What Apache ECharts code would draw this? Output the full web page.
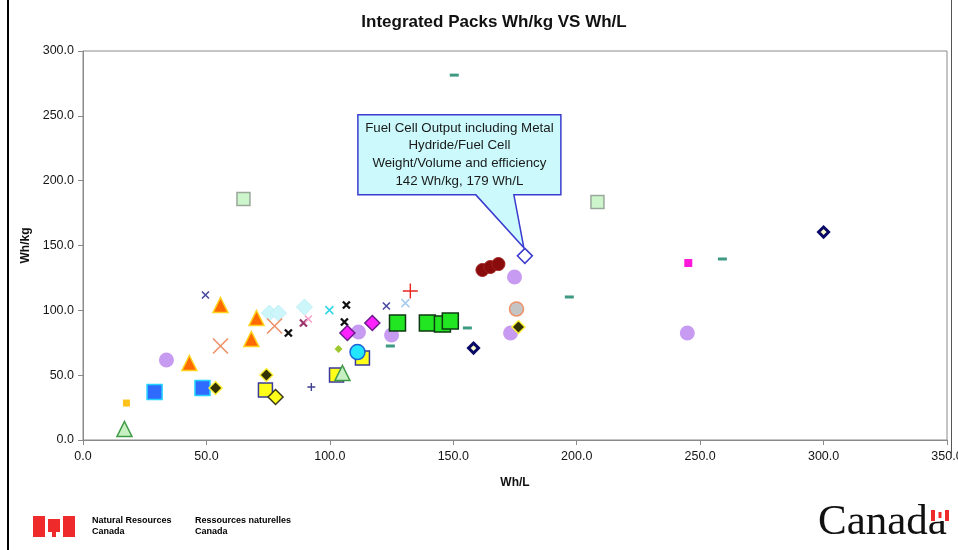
<!DOCTYPE html>
<html>
<head>
<meta charset="utf-8">
<title>Integrated Packs Wh/kg VS Wh/L</title>
<script src="https://cdn.jsdelivr.net/npm/echarts/dist/echarts.min.js"></script>
<style>
  html, body { margin: 0; padding: 0; background: #ffffff; }
  #chart { width: 958px; height: 550px; }
</style>
</head>
<body>
<div id="chart"></div>
<script>
// Pack data: each entry is [Wh/L, Wh/kg]
const lightPurpleCircles = [[33.8, 61.7], [111.6, 83.3], [125.0, 81.0], [174.8, 125.7], [173.2, 82.5], [244.8, 82.5]];
const paleGreenSquares   = [[65.0, 185.8], [208.4, 183.5]];
const tealDashes         = [[124.5, 72.5], [155.7, 86.4], [197.0, 110.3], [259.0, 139.6], [150.4, 281.4]];
const paleCyanDiamonds   = [[75.5, 97.9], [79.2, 97.9], [89.7, 102.5]];
const salmonCrosses      = [[55.7, 72.5], [77.6, 87.9]];
const orangeTriangles    = [[43.1, 59.4], [55.7, 104.1], [70.3, 94.1], [68.2, 77.9]];
const blueSquares        = [[29.0, 37.0], [48.4, 40.1]];
const smallGoldSquares   = [[17.6, 28.5]];
const yellowSquares      = [[73.9, 38.6], [102.7, 50.1], [113.2, 63.2]];
const yellowDiamonds     = [[78.0, 33.2]];
const darkDiamonds       = [[53.7, 40.1], [74.3, 50.1], [176.4, 87.1]];
const navyCrosses        = [[49.6, 111.8], [122.9, 103.3]];
const blackCrosses       = [[83.2, 82.5], [106.7, 104.1], [105.9, 91.0]];
const plumCrosses        = [[89.3, 90.2]];
const pinkCrosses        = [[91.3, 93.3]];
const cyanCrosses        = [[99.8, 100.2]];
const skyCrosses         = [[130.6, 105.6]];
const navyPlus           = [[92.5, 40.9]];
const redPlus            = [[132.6, 114.9]];
const magentaDiamonds    = [[107.1, 82.5], [117.2, 90.2]];
const oliveDiamonds      = [[103.5, 70.2]];
const cyanCircles        = [[111.2, 67.8]];
const greenTriangles     = [[16.8, 8.5], [105.1, 51.7]];
const greenSquares       = [[127.4, 90.2], [139.5, 90.2], [145.6, 89.4], [148.8, 91.7]];
const navyRingDiamonds   = [[158.2, 70.9], [300.0, 160.4]];
const maroonCircles      = [[161.8, 131.1], [165.0, 133.4], [168.3, 135.7]];
const greyCircles        = [[175.6, 101.0]];
const magentaSquares     = [[245.2, 136.5]];
const fuelCellPoint      = [[179, 142]];

const xTicks = [0, 50, 100, 150, 200, 250, 300, 350];
const yTicks = [0, 50, 100, 150, 200, 250, 300];

const calloutLines = [
  'Fuel Cell Output including Metal',
  'Hydride/Fuel Cell',
  'Weight/Volume and efficiency',
  '142 Wh/kg, 179 Wh/L'
];

const CROSS = 'path://M0,0L10,10M10,0L0,10';
const PLUS = 'path://M5,0L5,10M0,5L10,5';

function scatter(data, symbol, size, fill, stroke, strokeWidth) {
  return {
    type: 'scatter',
    data: data,
    symbol: symbol,
    symbolSize: size,
    silent: true,
    itemStyle: {
      color: fill,
      borderColor: stroke || fill,
      borderWidth: strokeWidth || 0,
      opacity: 1
    }
  };
}
const NONE = 'rgba(0,0,0,0)';

const series = [
  scatter(lightPurpleCircles, 'circle', 15, '#C79BF2'),
  scatter(paleGreenSquares, 'rect', 13, '#CCF5CC', '#9AA89A', 1.5),
  scatter(tealDashes, 'rect', [9, 3], '#3E9A82'),
  scatter(paleCyanDiamonds, 'diamond', 16, '#CDF6FA', '#BFEFF5', 1),
  scatter(salmonCrosses, CROSS, 15, NONE, '#EE9168', 1.6),
  scatter(orangeTriangles, 'triangle', 15, '#FF6A00', '#FFD21F', 1.5),
  scatter(blueSquares, 'rect', 15, '#2F6BFF', '#22D2FF', 1.5),
  scatter(smallGoldSquares, 'rect', 7, '#FFC21A'),
  scatter(yellowSquares, 'rect', 14, '#FFFF1A', '#3A3A9A', 1.5),
  scatter(yellowDiamonds, 'diamond', 15, '#FFFF1A', '#3A3A1A', 1.5),
  scatter(darkDiamonds, 'diamond', 13, '#333300', '#FFF23A', 1.5),
  scatter(navyCrosses, CROSS, 7, NONE, '#4A4AA0', 1.6),
  scatter(blackCrosses, CROSS, 7, NONE, '#111111', 2.4),
  scatter(plumCrosses, CROSS, 7, NONE, '#99336A', 2.2),
  scatter(pinkCrosses, CROSS, 7, NONE, '#F7A0C8', 1.6),
  scatter(cyanCrosses, CROSS, 8, NONE, '#33D6E6', 1.6),
  scatter(skyCrosses, CROSS, 8, NONE, '#A8CCEE', 1.6),
  scatter(navyPlus, PLUS, 8, NONE, '#40408F', 1.4),
  scatter(redPlus, PLUS, 15, NONE, '#E8261F', 1.4),
  scatter(magentaDiamonds, 'diamond', 15, '#FF22FF', '#6A1A8A', 1.5),
  scatter(oliveDiamonds, 'diamond', 8, '#9CC72E'),
  scatter(cyanCircles, 'circle', 15, '#22E6FF', '#1E63D6', 1.5),
  scatter(greenTriangles, 'triangle', 15, '#C7F0C2', '#3F9A46', 1.5),
  scatter(greenSquares, 'rect', 16, '#22E622', '#0E3A12', 1.5),
  scatter(navyRingDiamonds, 'diamond', 10, '#FFFFCC', '#0A0A66', 3),
  scatter(maroonCircles, 'circle', 13, '#8A0B0B', '#A02020', 1),
  scatter(greyCircles, 'circle', 14, '#C4C4C4', '#EE9068', 1.5),
  scatter(magentaSquares, 'rect', 8, '#FF1ADB'),
  scatter(fuelCellPoint, 'diamond', 15, '#FFFFFF', '#3A3ACC', 1.5)
];

const axisText = { color: '#151515', fontFamily: 'Liberation Sans, Arial, sans-serif', fontSize: 12.5 };

const chart = echarts.init(document.getElementById('chart'), null, { renderer: 'canvas' });

chart.setOption({
  animation: false,
  backgroundColor: '#ffffff',
  title: {
    text: 'Integrated Packs Wh/kg VS Wh/L',
    left: 489,
    textAlign: 'center',
    top: 9,
    textStyle: { fontFamily: 'Liberation Sans, Arial, sans-serif', fontSize: 17, fontWeight: 'bold', color: '#111' }
  },
  grid: {
    left: 83, right: 11, top: 51, bottom: 110,
    containLabel: false, outerBoundsMode: 'none',
    show: true, borderColor: '#8a8a8a', borderWidth: 1, backgroundColor: '#ffffff'
  },
  xAxis: {
    type: 'value',
    min: xTicks[0], max: xTicks[xTicks.length - 1], interval: xTicks[1] - xTicks[0],
    name: 'Wh/L', nameLocation: 'middle', nameGap: 37,
    nameTextStyle: { fontFamily: 'Liberation Sans, Arial, sans-serif', fontSize: 12, fontWeight: 'bold', color: '#111' },
    axisLine: { show: true, onZero: false, lineStyle: { color: '#8a8a8a', width: 1 } },
    axisTick: { show: true, length: 5, lineStyle: { color: '#8a8a8a' } },
    axisLabel: Object.assign({ margin: 10, formatter: v => v.toFixed(1), showMaxLabel: true }, axisText),
    splitLine: { show: false }
  },
  yAxis: {
    type: 'value',
    min: yTicks[0], max: yTicks[yTicks.length - 1], interval: yTicks[1] - yTicks[0],
    name: 'Wh/kg', nameLocation: 'middle', nameGap: 47, nameRotate: 90,
    nameTextStyle: { fontFamily: 'Liberation Sans, Arial, sans-serif', fontSize: 12, fontWeight: 'bold', color: '#111' },
    axisLine: { show: true, onZero: false, lineStyle: { color: '#8a8a8a', width: 1 } },
    axisTick: { show: true, length: 5, lineStyle: { color: '#8a8a8a' } },
    axisLabel: Object.assign({ margin: 9, formatter: v => v.toFixed(1) }, axisText),
    splitLine: { show: false }
  },
  series: series
});

// Callout box pointing at the fuel cell point
const p = chart.convertToPixel({ gridIndex: 0 }, fuelCellPoint[0]);
const L = p[0] - 167, R = p[0] + 36, T = p[1] - 141, B = p[1] - 61;
const tip = [p[0] - 1, p[1] - 8];
const cx = (L + R) / 2;

const graphics = [
  { type: 'line', shape: { x1: 8, y1: 0, x2: 8, y2: 550 }, style: { stroke: '#000', lineWidth: 2 }, z: 100 },
  { type: 'line', shape: { x1: 951.5, y1: 0, x2: 951.5, y2: 458 }, style: { stroke: '#555', lineWidth: 1 }, z: 100 },
  {
    type: 'polygon',
    shape: { points: [[L, T], [R, T], [R, B], [p[0] - 11, B], tip, [p[0] - 49, B], [L, B]] },
    style: { fill: '#CCFAFC', stroke: '#3B3BCF', lineWidth: 1.5 },
    z: 100
  }
];
calloutLines.forEach((line, i) => {
  graphics.push({
    type: 'text', z: 101,
    x: cx, y: T + 13 + i * 17.7,
    style: {
      text: line, x: 0, y: 0, align: 'center', verticalAlign: 'middle',
      fill: '#1a1a1a', font: '13.3px "Liberation Sans", Arial, sans-serif'
    }
  });
});

// Footer: departmental signature and wordmark
graphics.push(
  { type: 'rect', shape: { x: 33, y: 516, width: 42, height: 21 }, style: { fill: '#EE2A2A' }, z: 100 },
  { type: 'rect', shape: { x: 45, y: 516, width: 3, height: 21 }, style: { fill: '#ffffff' }, z: 101 },
  { type: 'rect', shape: { x: 60, y: 516, width: 3, height: 21 }, style: { fill: '#ffffff' }, z: 101 },
  { type: 'rect', shape: { x: 48, y: 516, width: 12, height: 3 }, style: { fill: '#ffffff' }, z: 101 },
  { type: 'rect', shape: { x: 48, y: 532, width: 4, height: 5 }, style: { fill: '#ffffff' }, z: 101 },
  { type: 'rect', shape: { x: 56, y: 532, width: 4, height: 5 }, style: { fill: '#ffffff' }, z: 101 },
  { type: 'text', z: 101, x: 92, y: 521, style: { text: 'Natural Resources', fill: '#000', font: 'bold 9px "Liberation Sans", Arial, sans-serif', verticalAlign: 'middle' } },
  { type: 'text', z: 101, x: 92, y: 532, style: { text: 'Canada', fill: '#000', font: 'bold 9px "Liberation Sans", Arial, sans-serif', verticalAlign: 'middle' } },
  { type: 'text', z: 101, x: 195, y: 521, style: { text: 'Ressources naturelles', fill: '#000', font: 'bold 9px "Liberation Sans", Arial, sans-serif', verticalAlign: 'middle' } },
  { type: 'text', z: 101, x: 195, y: 532, style: { text: 'Canada', fill: '#000', font: 'bold 9px "Liberation Sans", Arial, sans-serif', verticalAlign: 'middle' } },
  { type: 'text', z: 101, x: 818, y: 544, style: { text: 'Canada', fill: '#111', font: '43px "Liberation Serif", "Times New Roman", serif', verticalAlign: 'bottom' } },
  { type: 'rect', shape: { x: 931, y: 510, width: 18, height: 11 }, style: { fill: '#EE2A2A' }, z: 101 },
  { type: 'rect', shape: { x: 935, y: 510, width: 10, height: 11 }, style: { fill: '#ffffff' }, z: 102 },
  { type: 'rect', shape: { x: 938.5, y: 512, width: 3, height: 6 }, style: { fill: '#EE2A2A' }, z: 103 }
);

chart.setOption({ graphic: graphics });
</script>
</body>
</html>
